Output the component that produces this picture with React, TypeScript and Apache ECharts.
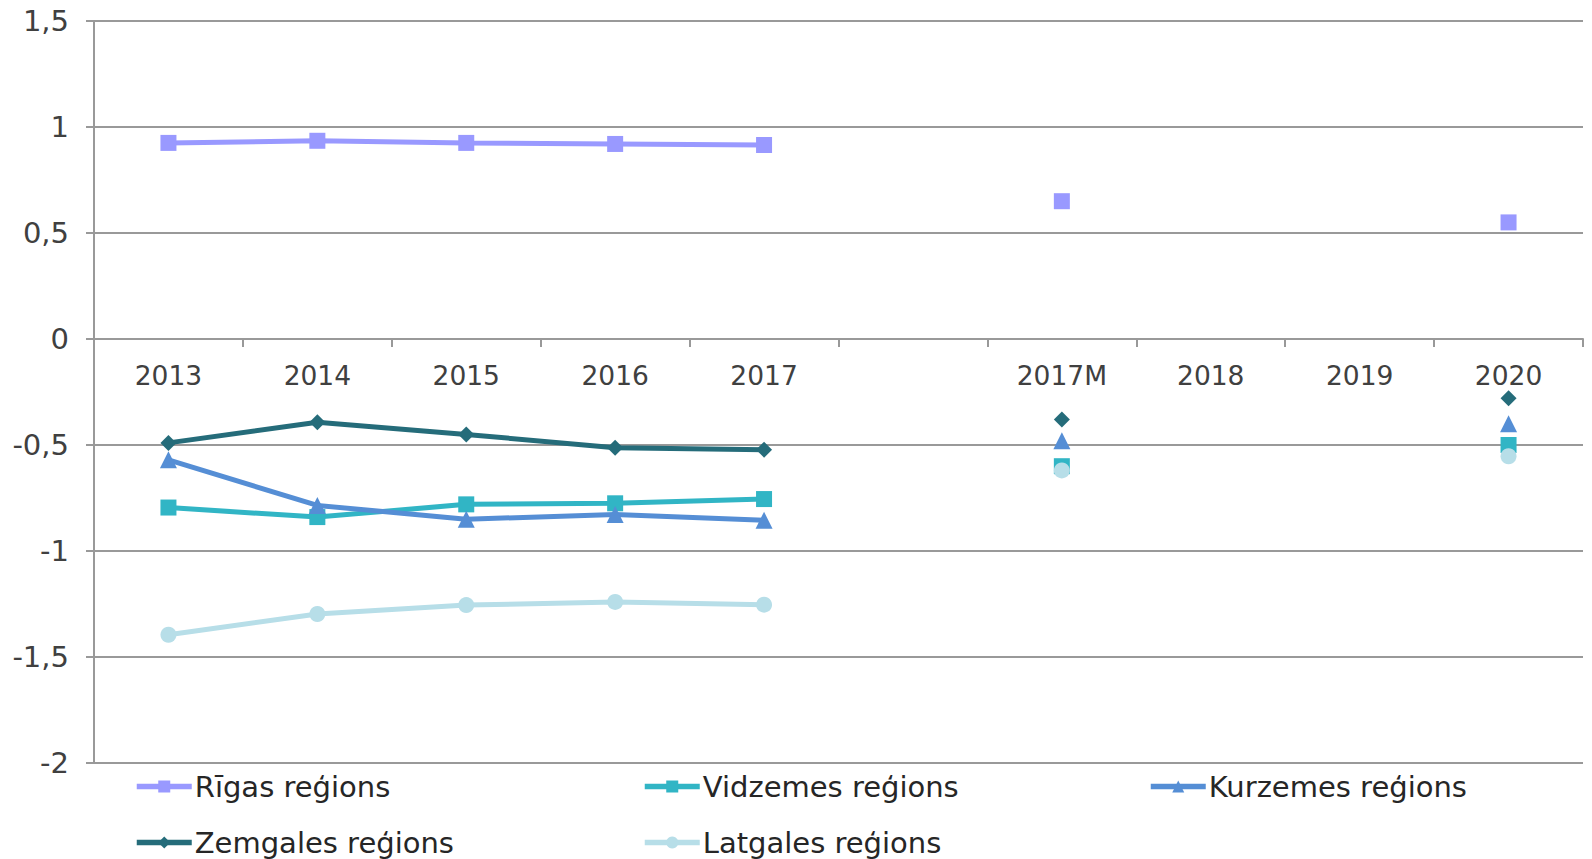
import React, { useEffect, useRef } from "react";
import * as echarts from "echarts";

const categories = ["2013", "2014", "2015", "2016", "2017", "", "2017M", "2018", "2019", "2020"];
const yTicks = { min: -2, max: 1.5, interval: 0.5 };

const riga = [0.925, 0.935, 0.925, 0.92, 0.915, null, 0.65, null, null, 0.55];
const vidzeme = [-0.795, -0.84, -0.78, -0.775, -0.755, null, -0.6, null, null, -0.5];
const kurzeme = [-0.57, -0.785, -0.85, -0.828, -0.855, null, -0.48, null, null, -0.4];
const zemgale = [-0.49, -0.393, -0.45, -0.513, -0.522, null, -0.38, null, null, -0.28];
const latgale = [-1.395, -1.297, -1.255, -1.24, -1.253, null, -0.62, null, null, -0.553];

const seriesDefs = [
  { name: "Rīgas reģions", data: riga, color: "#9999FF", symbol: "rect", size: 16, left: 129, top: 767 },
  { name: "Vidzemes reģions", data: vidzeme, color: "#31B5C5", symbol: "rect", size: 16, left: 637, top: 767 },
  { name: "Kurzemes reģions", data: kurzeme, color: "#558ED5", symbol: "triangle", size: 17, left: 1143, top: 767 },
  { name: "Zemgales reģions", data: zemgale, color: "#256C7A", symbol: "diamond", size: 16, left: 129, top: 823 },
  { name: "Latgales reģions", data: latgale, color: "#B7DEE8", symbol: "circle", size: 16, left: 637, top: 823 },
];

const FONT = "DejaVu Sans, Verdana, sans-serif";
const GRID_TOP = 21;
const GRID_BOTTOM = 96;
const GRID_LEFT = 94;
const GRID_RIGHT = 9;
const H = 859;

export default function App() {
  const ref = useRef<HTMLDivElement>(null);
  useEffect(() => {
    if (!ref.current) return;
    const chart = echarts.init(ref.current, undefined, { renderer: "svg" });
    const plotH = H - GRID_TOP - GRID_BOTTOM;
    const zeroY = GRID_TOP + (plotH * yTicks.max) / (yTicks.max - yTicks.min);
    chart.setOption({
      animation: false,
      backgroundColor: "#ffffff",
      grid: [
        { left: GRID_LEFT, right: GRID_RIGHT, top: GRID_TOP, bottom: GRID_BOTTOM, containLabel: false },
        { left: GRID_LEFT, right: GRID_RIGHT, top: GRID_TOP, bottom: H - zeroY, containLabel: false },
      ],
      legend: seriesDefs.map((s) => ({
        data: [s.name],
        left: s.left,
        top: s.top,
        itemWidth: 55,
        itemHeight: 15,
        itemGap: 0,
        lineStyle: { width: 5.5 },
        textStyle: { fontFamily: FONT, fontSize: 29, color: "#262626", padding: [0, 0, 0, -2] },
      })),
      xAxis: [
        {
          type: "category",
          gridIndex: 0,
          data: categories,
          boundaryGap: true,
          axisLine: { show: false },
          axisTick: { show: false },
          axisLabel: { show: false },
          splitLine: { show: false },
        },
        {
          type: "category",
          gridIndex: 1,
          position: "bottom",
          data: categories,
          boundaryGap: true,
          axisLine: { show: true, onZero: false, lineStyle: { color: "#999999", width: 2 } },
          axisTick: { show: true, length: 8, interval: 0, lineStyle: { color: "#999999", width: 2 } },
          axisLabel: { interval: 0, margin: 23, fontFamily: FONT, fontSize: 26.5, color: "#404040" },
          splitLine: { show: false },
        },
      ],
      yAxis: [
        {
          type: "value",
          gridIndex: 0,
          min: yTicks.min,
          max: yTicks.max,
          interval: yTicks.interval,
          axisLine: { show: true, lineStyle: { color: "#999999", width: 2 } },
          axisTick: { show: true, length: 8, lineStyle: { color: "#999999", width: 2 } },
          axisLabel: {
            margin: 25,
            fontFamily: FONT,
            fontSize: 29,
            color: "#404040",
            formatter: (v: number) => String(v).replace(".", ","),
          },
          splitLine: { show: true, lineStyle: { color: "#999999", width: 2 } },
        },
        {
          type: "value",
          gridIndex: 1,
          min: 0,
          max: yTicks.max,
          show: false,
        },
      ],
      series: seriesDefs.map((s) => ({
        name: s.name,
        type: "line",
        xAxisIndex: 0,
        yAxisIndex: 0,
        data: s.data,
        connectNulls: false,
        showSymbol: true,
        symbol: s.symbol,
        symbolSize: s.size,
        color: s.color,
        itemStyle: { color: s.color },
        lineStyle: { color: s.color, width: 5 },
      })),
    });
    return () => chart.dispose();
  }, []);
  return <div ref={ref} style={{ position: "fixed", left: 0, top: 0, width: 1592, height: 859 }} />;
}
